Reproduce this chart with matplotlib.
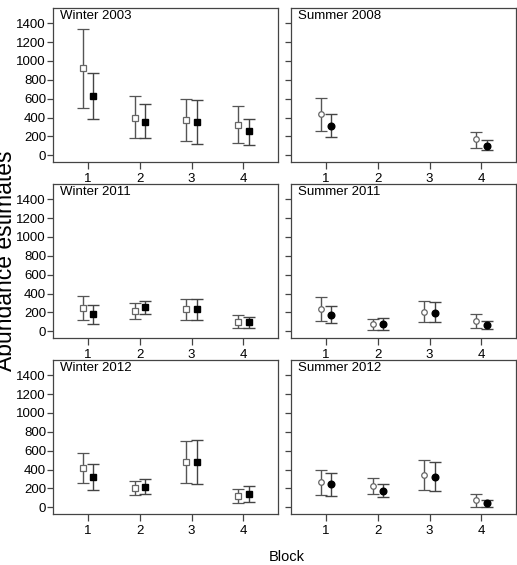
import numpy as np
from matplotlib import pyplot as plt

plt.rcParams['font.family'] = ['Liberation Sans', 'DejaVu Sans']

blocks = [1, 2, 3, 4]
titles = ['Winter 2003', 'Summer 2008', 'Winter 2011', 'Summer 2011', 'Winter 2012', 'Summer 2012']

# open markers: estimate, lower, upper
open_mean = [[922, 400, 378, 325],
             [435, np.nan, np.nan, 170],
             [250, 218, 233, 102],
             [236, 74, 208, 113],
             [412, 204, 482, 123],
             [265, 226, 343, 78]]
open_lo = [[505, 180, 155, 131],
           [254, np.nan, np.nan, 81],
           [123, 134, 123, 32],
           [106, 18, 95, 39],
           [253, 130, 260, 46],
           [131, 138, 187, 7]]
open_hi = [[1336, 625, 600, 523],
           [612, np.nan, np.nan, 251],
           [377, 303, 338, 176],
           [367, 127, 321, 183],
           [580, 281, 703, 197],
           [396, 311, 498, 145]]

# filled markers: estimate, lower, upper
fill_mean = [[632, 353, 353, 254],
             [307, np.nan, np.nan, 103],
             [187, 257, 233, 102],
             [173, 81, 194, 67],
             [320, 218, 478, 141],
             [247, 173, 322, 42]]
fill_lo = [[389, 180, 117, 110],
           [194, np.nan, np.nan, 53],
           [81, 187, 123, 39],
           [88, 18, 95, 28],
           [186, 141, 246, 53],
           [124, 113, 177, 0]]
fill_hi = [[873, 541, 583, 389],
           [435, np.nan, np.nan, 166],
           [282, 324, 338, 155],
           [268, 145, 307, 113],
           [457, 302, 714, 229],
           [368, 247, 481, 81]]

fig = plt.figure(figsize=(5.17, 5.65), dpi=100)

lefts = [53/517, 291/517]
bottoms = [(565-162)/565, (565-338)/565, (565-514)/565]
w = 225/517
h = 154/565

x = np.array(blocks)
for i in range(6):
    row = i // 2
    col = i % 2
    ax = fig.add_axes([lefts[col], bottoms[row], w, h])
    mk = 's' if col == 0 else 'o'
    ms_open = 4.8 if col == 0 else 4
    ms_fill = 4.8 if col == 0 else 4.8

    m = np.array(open_mean[i])
    lo = m - np.array(open_lo[i])
    hi = np.array(open_hi[i]) - m
    ax.errorbar(x - 0.1, m, yerr=[lo, hi], fmt=mk, ms=ms_open, mfc='white',
                mec='#666666', mew=0.9, ecolor='#555555', elinewidth=1,
                capsize=4.5, capthick=1)

    m = np.array(fill_mean[i])
    lo = m - np.array(fill_lo[i])
    hi = np.array(fill_hi[i]) - m
    ax.errorbar(x + 0.1, m, yerr=[lo, hi], fmt=mk, ms=ms_fill, mfc='black',
                mec='black', ecolor='#444444', elinewidth=1,
                capsize=4.5, capthick=1)

    ax.set_xlim(0.32, 4.67)
    ax.set_ylim(-72, 1562)
    ax.set_xticks(blocks)
    ax.set_yticks(range(0, 1401, 200))
    ax.tick_params(axis='x', length=5, width=0.9, color='#444444', pad=3, labelsize=9.5)
    ax.tick_params(axis='y', length=4, width=0.9, color='#444444', pad=1, labelsize=9.5)
    if col == 1:
        ax.set_yticklabels([])
    for s in ax.spines.values():
        s.set_color('#444444')
        s.set_linewidth(0.9)
    ax.text(0.03, 0.985, titles[i], transform=ax.transAxes, ha='left', va='top', fontsize=9.5)

fig.text(17/517, 0.538, 'Abundance estimates', rotation=90, ha='right', va='center', fontsize=16.5)
fig.text(287/517, 8/565, 'Block', ha='center', va='center', fontsize=10.5)

plt.savefig('out.png', dpi=100)
